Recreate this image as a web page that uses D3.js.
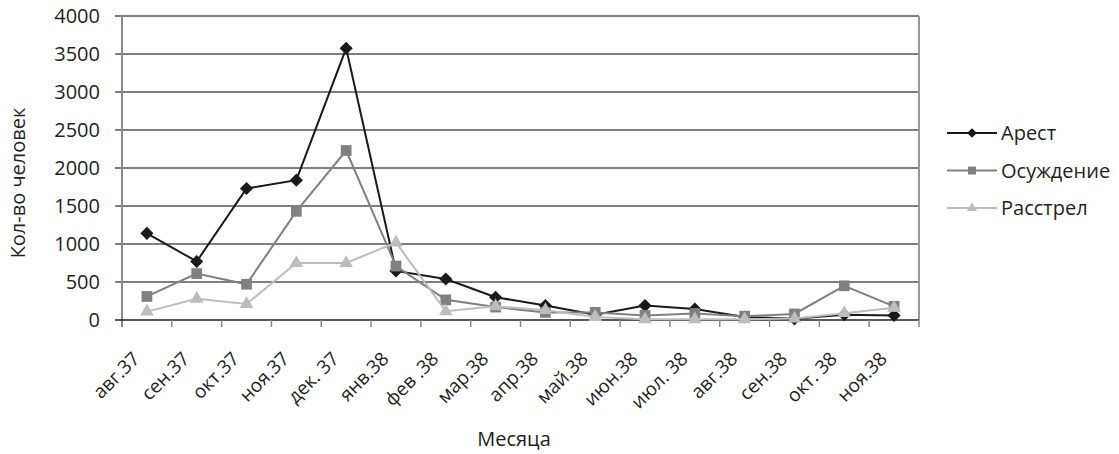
<!DOCTYPE html>
<html>
<head>
<meta charset="utf-8">
<script src="https://cdn.jsdelivr.net/npm/d3@7"></script>
<style>
    body { margin: 0; background: #fff; }
    svg text { font-family: "Open Sans", sans-serif; fill: #231f20; }
</style>
</head>
<body>
<div id="chart"></div>
<script>
var months = ["авг.37", "сен.37", "окт.37", "ноя.37", "дек. 37", "янв.38", "фев .38", "мар.38",
    "апр.38", "май.38", "июн.38", "июл. 38", "авг.38", "сен.38", "окт. 38", "ноя.38"];
var arrests = [1140, 770, 1730, 1840, 3575, 645, 540, 300, 190, 70, 190, 145, 40, 15, 70, 60];
var convictions = [310, 610, 470, 1430, 2230, 710, 265, 170, 100, 100, 60, 85, 50, 80, 450, 180];
var executions = [110, 280, 210, 750, 750, 1020, 115, 180, 130, 40, 10, 10, 10, 20, 90, 160];
var yTicks = [0, 500, 1000, 1500, 2000, 2500, 3000, 3500, 4000];

var seriesList = [
    {name: "Арест", values: arrests, color: "#1a1a1a", marker: "diamond", size: 110},
    {name: "Осуждение", values: convictions, color: "#808080", marker: "square", size: 115},
    {name: "Расстрел", values: executions, color: "#bdbdbd", marker: "triangle", size: 80}
];

var width = 1119, height = 454;
var plot = {left: 122, right: 919, top: 16, bottom: 320};

var svg = d3.select("#chart").append("svg")
    .attr("width", width)
    .attr("height", height);

var x = d3.scaleBand()
    .domain(months)
    .range([plot.left, plot.right]);

var y = d3.scaleLinear()
    .domain([0, 4000])
    .range([plot.bottom, plot.top]);

// horizontal grid lines with outside ticks
svg.append("g")
    .selectAll("line")
    .data(yTicks.slice(1))
    .enter().append("line")
    .attr("x1", plot.left - 7)
    .attr("x2", plot.right)
    .attr("y1", function (d) { return y(d); })
    .attr("y2", function (d) { return y(d); })
    .attr("stroke", "#555")
    .attr("stroke-width", 1.3);

// right border and left axis
svg.append("line")
    .attr("x1", plot.right).attr("x2", plot.right)
    .attr("y1", plot.top).attr("y2", plot.bottom)
    .attr("stroke", "#999").attr("stroke-width", 2);
svg.append("line")
    .attr("x1", plot.left).attr("x2", plot.left)
    .attr("y1", plot.top).attr("y2", plot.bottom + 7)
    .attr("stroke", "#888").attr("stroke-width", 2);

// y tick labels
svg.append("g")
    .selectAll("text")
    .data(yTicks)
    .enter().append("text")
    .attr("x", 100)
    .attr("y", function (d) { return y(d); })
    .attr("dy", "0.36em")
    .attr("text-anchor", "end")
    .style("font-size", "20px")
    .text(function (d) { return d; });

// x axis line and category boundary ticks
svg.append("line")
    .attr("x1", plot.left - 7).attr("x2", plot.right)
    .attr("y1", plot.bottom).attr("y2", plot.bottom)
    .attr("stroke", "#222").attr("stroke-width", 1.5);

var boundaries = months.map(function (m) { return x(m); }).concat([plot.right]);
svg.append("g")
    .selectAll("line")
    .data(boundaries.slice(1))
    .enter().append("line")
    .attr("x1", function (d) { return d; })
    .attr("x2", function (d) { return d; })
    .attr("y1", plot.bottom)
    .attr("y2", plot.bottom + 7)
    .attr("stroke", "#888")
    .attr("stroke-width", 1.5);

// x tick labels, rotated
svg.append("g")
    .selectAll("text")
    .data(months)
    .enter().append("text")
    .attr("text-anchor", "end")
    .attr("transform", function (d) {
        return "translate(" + (x(d) + x.bandwidth() / 2 - 6) + "," + 360 + ") rotate(-45)";
    })
    .style("font-size", "19px")
    .text(function (d) { return d; });

// axis titles
svg.append("text")
    .attr("transform", "translate(25," + 183 + ") rotate(-90)")
    .attr("text-anchor", "middle")
    .style("font-size", "20px")
    .text("Кол-во человек");

svg.append("text")
    .attr("x", 514)
    .attr("y", 446)
    .attr("text-anchor", "middle")
    .style("font-size", "20px")
    .text("Месяца");

function markerPath(type, size) {
    if (type === "diamond") {
        return d3.symbol().type(d3.symbolDiamond2 || d3.symbolDiamond).size(size)();
    }
    if (type === "square") {
        return d3.symbol().type(d3.symbolSquare).size(size)();
    }
    return d3.symbol().type(d3.symbolTriangle).size(size)();
}

var line = d3.line()
    .x(function (d, i) { return x(months[i]) + x.bandwidth() / 2; })
    .y(function (d) { return y(d); });

seriesList.forEach(function (s) {
    var g = svg.append("g").attr("class", "series");
    g.append("path")
        .attr("d", line(s.values))
        .attr("fill", "none")
        .attr("stroke", s.color)
        .attr("stroke-width", 2);
    g.selectAll("path.mark")
        .data(s.values)
        .enter().append("path")
        .attr("class", "mark")
        .attr("d", markerPath(s.marker, s.size))
        .attr("transform", function (d, i) {
            return "translate(" + (x(months[i]) + x.bandwidth() / 2) + "," + y(d) + ")";
        })
        .attr("fill", s.color);
});

// legend
var legend = svg.append("g")
    .selectAll("g")
    .data(seriesList)
    .enter().append("g")
    .attr("transform", function (d, i) { return "translate(947," + (133 + i * 37.5) + ")"; });

legend.append("line")
    .attr("x1", 0).attr("x2", 50)
    .attr("stroke", function (d) { return d.color; })
    .attr("stroke-width", 2);
legend.append("path")
    .attr("d", function (d) { return markerPath(d.marker, d.size * 0.55); })
    .attr("transform", "translate(25,0)")
    .attr("fill", function (d) { return d.color; });
legend.append("text")
    .attr("x", 54)
    .attr("dy", "0.36em")
    .style("font-size", "20px")
    .text(function (d) { return d.name; });
</script>
</body>
</html>
